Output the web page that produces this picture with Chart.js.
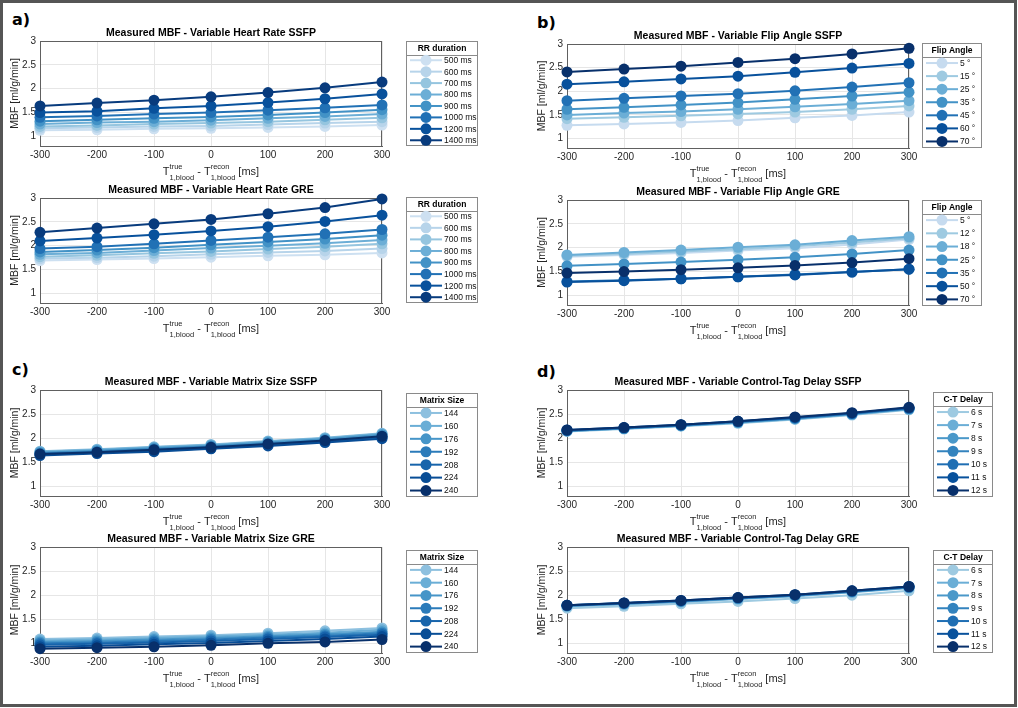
<!DOCTYPE html>
<html>
<head>
<meta charset="utf-8">
<script src="https://cdn.jsdelivr.net/npm/chart.js@4.4.1/dist/chart.umd.min.js"></script>
<style>
  html, body { margin: 0; padding: 0; background: #fff; }
  body { width: 1018px; height: 708px; position: relative; overflow: hidden; }
  #frame { position: absolute; left: 0; top: 0; width: 1011px; height: 701px; border: 3px solid #555; }
  .tag { position: absolute; font: bold 16px 'DejaVu Sans'; line-height: 16px; color: #000; }
  canvas { position: absolute; }
</style>
</head>
<body>
<div id="frame"></div>
<div class="tag" style="left:12px;top:12px">a)</div>
<div class="tag" style="left:537px;top:15px">b)</div>
<div class="tag" style="left:12px;top:362px">c)</div>
<div class="tag" style="left:537px;top:364px">d)</div>
<script>
// x positions (T1 mismatch, ms) and axis ticks
const xValues = [-300, -200, -100, 0, 100, 200, 300];
const xTicks = [-300, -200, -100, 0, 100, 200, 300];
const yTicks = [1, 1.5, 2, 2.5, 3];

// a) heart rate
const rrLabels = ['500 ms', '600 ms', '700 ms', '800 ms', '900 ms', '1000 ms', '1200 ms', '1400 ms'];
const rrSsfp = [
  [1.13, 1.14, 1.16, 1.17, 1.19, 1.21, 1.24],
  [1.17, 1.19, 1.21, 1.22, 1.25, 1.28, 1.31],
  [1.21, 1.23, 1.26, 1.28, 1.31, 1.35, 1.39],
  [1.26, 1.29, 1.31, 1.34, 1.38, 1.42, 1.47],
  [1.32, 1.35, 1.38, 1.41, 1.45, 1.50, 1.56],
  [1.40, 1.43, 1.47, 1.50, 1.55, 1.60, 1.66],
  [1.50, 1.53, 1.59, 1.64, 1.71, 1.79, 1.89],
  [1.64, 1.70, 1.76, 1.83, 1.92, 2.02, 2.14]
];
const rrGre = [
  [1.69, 1.71, 1.73, 1.76, 1.79, 1.81, 1.85],
  [1.73, 1.75, 1.78, 1.82, 1.86, 1.89, 1.94],
  [1.77, 1.80, 1.84, 1.88, 1.93, 1.98, 2.04],
  [1.82, 1.85, 1.90, 1.95, 2.00, 2.05, 2.12],
  [1.87, 1.91, 1.96, 2.02, 2.08, 2.14, 2.22],
  [1.94, 1.98, 2.04, 2.11, 2.18, 2.25, 2.34],
  [2.10, 2.16, 2.23, 2.31, 2.40, 2.51, 2.64],
  [2.28, 2.37, 2.46, 2.55, 2.67, 2.80, 2.98]
];

// b) flip angle
const flipSsfpLabels = ['5 °', '15 °', '25 °', '35 °', '45 °', '60 °', '70 °'];
const flipSsfp = [
  [1.28, 1.31, 1.34, 1.38, 1.44, 1.49, 1.56],
  [1.42, 1.45, 1.48, 1.52, 1.56, 1.62, 1.69],
  [1.50, 1.54, 1.57, 1.62, 1.67, 1.73, 1.80],
  [1.62, 1.66, 1.71, 1.76, 1.83, 1.90, 1.98],
  [1.80, 1.85, 1.90, 1.95, 2.01, 2.09, 2.18],
  [2.15, 2.20, 2.26, 2.32, 2.40, 2.49, 2.59],
  [2.41, 2.47, 2.53, 2.61, 2.69, 2.79, 2.91]
];
const flipGreLabels = ['5 °', '12 °', '18 °', '25 °', '35 °', '50 °', '70 °'];
const flipGre = [
  [1.81, 1.85, 1.89, 1.94, 1.99, 2.07, 2.17],
  [1.83, 1.87, 1.92, 1.97, 2.03, 2.11, 2.20],
  [1.85, 1.90, 1.95, 2.01, 2.06, 2.15, 2.23],
  [1.62, 1.66, 1.70, 1.75, 1.80, 1.87, 1.95],
  [1.29, 1.32, 1.35, 1.39, 1.44, 1.49, 1.55],
  [1.28, 1.31, 1.35, 1.39, 1.43, 1.49, 1.55],
  [1.47, 1.50, 1.54, 1.58, 1.63, 1.69, 1.77]
];

// c) matrix size
const matrixLabels = ['144', '160', '176', '192', '208', '224', '240'];
const matrixSsfp = [
  [1.73, 1.77, 1.82, 1.87, 1.94, 2.01, 2.10],
  [1.72, 1.76, 1.81, 1.86, 1.93, 2.00, 2.09],
  [1.70, 1.74, 1.79, 1.84, 1.91, 1.98, 2.07],
  [1.68, 1.72, 1.77, 1.82, 1.88, 1.95, 2.03],
  [1.66, 1.70, 1.74, 1.79, 1.86, 1.93, 2.01],
  [1.64, 1.68, 1.72, 1.78, 1.84, 1.91, 1.99],
  [1.67, 1.71, 1.76, 1.81, 1.88, 1.95, 2.04]
];
const matrixGre = [
  [1.09, 1.11, 1.14, 1.17, 1.21, 1.26, 1.32],
  [1.06, 1.08, 1.11, 1.14, 1.18, 1.22, 1.28],
  [1.03, 1.05, 1.08, 1.11, 1.15, 1.19, 1.24],
  [1.00, 1.02, 1.05, 1.08, 1.12, 1.16, 1.21],
  [0.97, 0.99, 1.02, 1.05, 1.09, 1.13, 1.18],
  [0.93, 0.95, 0.98, 1.01, 1.05, 1.09, 1.14],
  [0.89, 0.91, 0.93, 0.96, 1.00, 1.03, 1.08]
];

// d) control-tag delay
const ctLabels = ['6 s', '7 s', '8 s', '9 s', '10 s', '11 s', '12 s'];
const ctSsfp = [
  [2.14, 2.19, 2.25, 2.31, 2.39, 2.48, 2.59],
  [2.15, 2.20, 2.26, 2.32, 2.40, 2.49, 2.60],
  [2.15, 2.20, 2.26, 2.33, 2.41, 2.50, 2.61],
  [2.16, 2.21, 2.27, 2.34, 2.42, 2.51, 2.62],
  [2.16, 2.21, 2.27, 2.34, 2.42, 2.51, 2.62],
  [2.17, 2.22, 2.28, 2.35, 2.43, 2.52, 2.63],
  [2.17, 2.22, 2.28, 2.35, 2.44, 2.53, 2.64]
];
const ctGre = [
  [1.73, 1.77, 1.82, 1.87, 1.93, 2.00, 2.09],
  [1.77, 1.81, 1.86, 1.92, 1.98, 2.06, 2.15],
  [1.78, 1.82, 1.87, 1.93, 1.99, 2.07, 2.16],
  [1.78, 1.83, 1.88, 1.94, 2.00, 2.08, 2.17],
  [1.79, 1.83, 1.88, 1.94, 2.00, 2.08, 2.17],
  [1.79, 1.84, 1.89, 1.95, 2.01, 2.09, 2.18],
  [1.79, 1.84, 1.89, 1.95, 2.01, 2.09, 2.18]
];

// colours
const rrColors = ['#cde0f1', '#b7d4ea', '#95c5df', '#6caed6', '#4292c6', '#2171b5', '#08519c', '#083b7d'];
const flipColors = ['#c6dbef', '#9ecae1', '#6baed6', '#4292c6', '#2171b5', '#08519c', '#08306b'];
const matrixColors = ['#8dc0df', '#6aaed6', '#4695c8', '#2b7bba', '#1764ab', '#084d96', '#08306b'];
const ctColors = ['#9ecae1', '#6baed6', '#4a98c9', '#3383be', '#1f6eb3', '#08519c', '#08306b'];

const FONT = "'Liberation Sans', Arial, sans-serif";
const AXIS = '#606060';
const TEXT = '#262626';

const panels = [
  { L: 40, R: 382, T: 41, B: 146, lg: [406, 41, 478, 146], title: 'Measured MBF - Variable Heart Rate SSFP', lgTitle: 'RR duration', labels: rrLabels, series: rrSsfp, colors: rrColors },
  { L: 40, R: 382, T: 198, B: 303, lg: [406, 197, 478, 303], title: 'Measured MBF - Variable Heart Rate GRE', lgTitle: 'RR duration', labels: rrLabels, series: rrGre, colors: rrColors },
  { L: 567, R: 909, T: 44, B: 148, lg: [922, 43, 982, 148], title: 'Measured MBF - Variable Flip Angle SSFP', lgTitle: 'Flip Angle', labels: flipSsfpLabels, series: flipSsfp, colors: flipColors },
  { L: 567, R: 909, T: 200, B: 305, lg: [922, 200, 982, 306], title: 'Measured MBF - Variable Flip Angle GRE', lgTitle: 'Flip Angle', labels: flipGreLabels, series: flipGre, colors: flipColors },
  { L: 40, R: 382, T: 390, B: 496, lg: [406, 393, 478, 497], title: 'Measured MBF - Variable Matrix Size SSFP', lgTitle: 'Matrix Size', labels: matrixLabels, series: matrixSsfp, colors: matrixColors },
  { L: 40, R: 382, T: 547, B: 653, lg: [406, 550, 478, 653], title: 'Measured MBF - Variable Matrix Size GRE', lgTitle: 'Matrix Size', labels: matrixLabels, series: matrixGre, colors: matrixColors },
  { L: 567, R: 909, T: 390, B: 496, lg: [933, 392, 993, 497], title: 'Measured MBF - Variable Control-Tag Delay SSFP', lgTitle: 'C-T Delay', labels: ctLabels, series: ctSsfp, colors: ctColors },
  { L: 567, R: 909, T: 547, B: 653, lg: [933, 550, 993, 653], title: 'Measured MBF - Variable Control-Tag Delay GRE', lgTitle: 'C-T Delay', labels: ctLabels, series: ctGre, colors: ctColors }
];

// T^true_1,blood - T^recon_1,blood [ms] with stacked sup/sub
function drawXLabel(ctx, cx, base) {
  const big = '11px ' + FONT, small = '7.5px ' + FONT;
  const parts = [
    { t: 'T' }, { sup: 'true', sub: '1,blood' },
    { t: ' - T' }, { sup: 'recon', sub: '1,blood' },
    { t: ' [ms]' }
  ];
  let total = 0;
  parts.forEach(p => {
    if (p.t) { ctx.font = big; p.w = ctx.measureText(p.t).width; }
    else { ctx.font = small; p.w = Math.max(ctx.measureText(p.sup).width, ctx.measureText(p.sub).width); }
    total += p.w;
  });
  let x = cx - total / 2;
  ctx.fillStyle = TEXT;
  ctx.textAlign = 'left';
  ctx.textBaseline = 'alphabetic';
  parts.forEach(p => {
    if (p.t) { ctx.font = big; ctx.fillText(p.t, x, base); }
    else {
      ctx.font = small;
      ctx.fillText(p.sup, x, base - 6);
      ctx.fillText(p.sub, x, base + 4.5);
    }
    x += p.w;
  });
}

function makeDecor(p, offX, offY) {
  return {
    id: 'decor',
    beforeDatasetsDraw(chart) {
      const { ctx, chartArea: ca } = chart;
      ctx.save();
      ctx.strokeStyle = AXIS;
      ctx.lineWidth = 1;
      ctx.beginPath();
      const t = Math.round(ca.top) + 0.5, r = Math.round(ca.right) - 0.5;
      ctx.moveTo(ca.left, t); ctx.lineTo(ca.right, t);
      ctx.moveTo(r, ca.top); ctx.lineTo(r, ca.bottom);
      ctx.stroke();
      ctx.restore();
    },
    afterDraw(chart) {
      const { ctx, chartArea: ca } = chart;
      ctx.save();
      // title
      ctx.fillStyle = '#000';
      ctx.font = 'bold 10.5px ' + FONT;
      ctx.textAlign = 'center';
      ctx.textBaseline = 'middle';
      ctx.fillText(p.title, (ca.left + ca.right) / 2, ca.top - 8);
      // y label
      ctx.save();
      ctx.translate(ca.left - 25, (ca.top + ca.bottom) / 2);
      ctx.rotate(-Math.PI / 2);
      ctx.fillStyle = TEXT;
      ctx.font = '10.5px ' + FONT;
      ctx.fillText('MBF [ml/g/min]', 0, 0);
      ctx.restore();
      // x label
      drawXLabel(ctx, (ca.left + ca.right) / 2, ca.bottom + 29);
      // legend
      const x1 = p.lg[0] - offX, y1 = p.lg[1] - offY, x2 = p.lg[2] - offX, y2 = p.lg[3] - offY;
      ctx.fillStyle = '#fff';
      ctx.fillRect(x1, y1, x2 - x1, y2 - y1);
      ctx.strokeStyle = '#8a8a8a';
      ctx.lineWidth = 1;
      ctx.strokeRect(x1 + 0.5, y1 + 0.5, x2 - x1 - 1, y2 - y1 - 1);
      const sep = y1 + 13.5;
      ctx.beginPath();
      ctx.moveTo(x1, Math.round(sep) + 0.5); ctx.lineTo(x2, Math.round(sep) + 0.5);
      ctx.stroke();
      ctx.textBaseline = 'middle';
      ctx.fillStyle = '#000';
      ctx.font = 'bold 8.5px ' + FONT;
      ctx.textAlign = 'center';
      ctx.fillText(p.lgTitle, (x1 + x2) / 2, y1 + 7.5);
      const n = p.labels.length, step = (y2 - sep) / n;
      ctx.font = '8.5px ' + FONT;
      ctx.textAlign = 'left';
      p.labels.forEach((lab, i) => {
        const yy = sep + step * (i + 0.5);
        ctx.strokeStyle = p.colors[i];
        ctx.lineWidth = 2;
        ctx.beginPath();
        ctx.moveTo(x1 + 4, yy); ctx.lineTo(x1 + 36, yy);
        ctx.stroke();
        ctx.fillStyle = p.colors[i];
        ctx.beginPath();
        ctx.arc(x1 + 20, yy, 5.5, 0, Math.PI * 2);
        ctx.fill();
        ctx.fillStyle = '#111';
        ctx.fillText(lab, x1 + 38, yy + 0.5);
      });
      ctx.restore();
    }
  };
}

panels.forEach(p => {
  const left = p.L - 40, top = p.T - 30;
  const w = p.lg[2] + 4 - left, h = (p.B - p.T) + 72;
  const canvas = document.createElement('canvas');
  canvas.width = w; canvas.height = h;
  canvas.style.left = left + 'px';
  canvas.style.top = top + 'px';
  canvas.style.width = w + 'px';
  canvas.style.height = h + 'px';
  document.body.appendChild(canvas);

  const n = p.series.length;
  new Chart(canvas, {
    type: 'line',
    data: {
      datasets: p.series.map((vals, i) => ({
        label: p.labels[i],
        data: xValues.map((x, j) => ({ x: x, y: vals[j] })),
        borderColor: p.colors[i],
        backgroundColor: p.colors[i],
        pointBackgroundColor: p.colors[i],
        pointBorderColor: p.colors[i],
        borderWidth: 2,
        pointRadius: 5.5,
        pointBorderWidth: 0,
        pointHoverRadius: 5.5,
        tension: 0,
        clip: false,
        order: n - i
      }))
    },
    options: {
      responsive: false,
      animation: false,
      events: [],
      layout: { padding: { top: 30, left: 0, bottom: 0, right: w - 40 - (p.R - p.L) } },
      plugins: { legend: { display: false }, tooltip: { enabled: false } },
      scales: {
        x: {
          type: 'linear',
          min: -300,
          max: 300,
          afterBuildTicks: s => { s.ticks = xTicks.map(v => ({ value: v })); },
          afterFit: s => { s.height = 42; },
          ticks: { color: TEXT, font: { size: 10, family: FONT }, padding: 3, maxRotation: 0, autoSkip: false, callback: v => String(v) },
          grid: { color: '#e6e6e6', drawTicks: false },
          border: { color: AXIS, width: 1 }
        },
        y: {
          type: 'linear',
          min: 0.8,
          max: 3,
          afterBuildTicks: s => { s.ticks = yTicks.map(v => ({ value: v })); },
          afterFit: s => { s.width = 40; },
          ticks: { color: TEXT, font: { size: 10, family: FONT }, padding: 4, callback: v => String(v) },
          grid: { color: '#e6e6e6', drawTicks: false },
          border: { color: AXIS, width: 1 }
        }
      }
    },
    plugins: [makeDecor(p, left, top)]
  });
});
</script>
</body>
</html>
